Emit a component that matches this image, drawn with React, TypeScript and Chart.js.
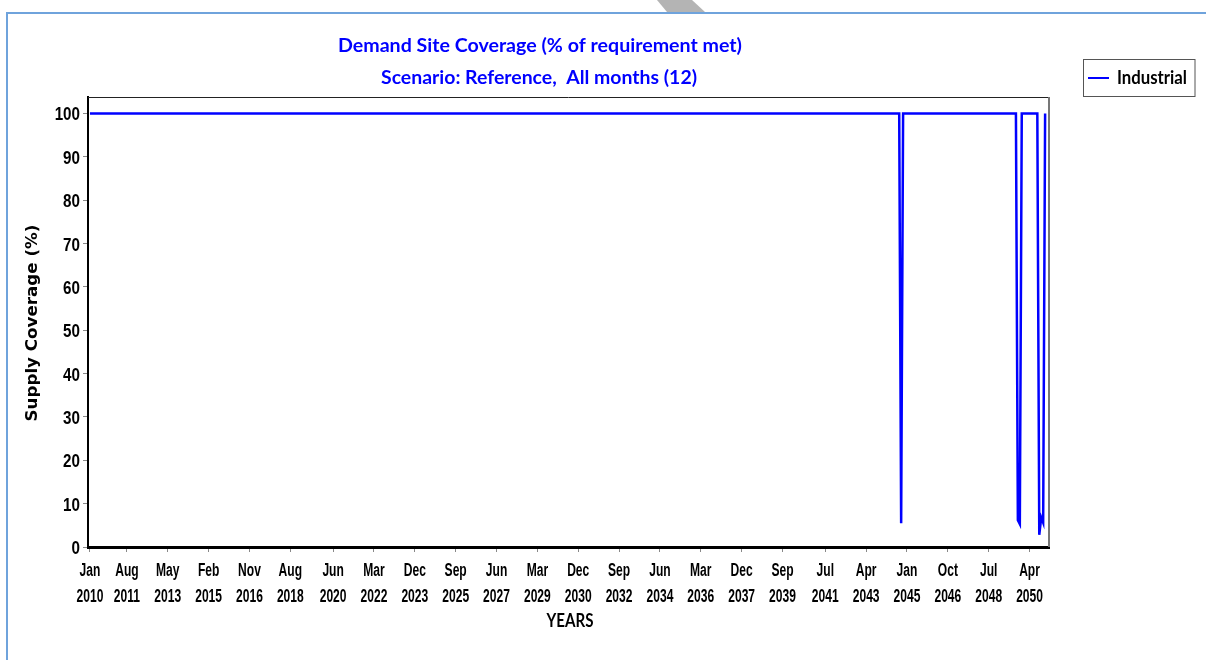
import React, { useEffect, useRef } from "react";
import { Chart, registerables } from "chart.js";

Chart.register(...registerables);

const MONTHS = ["Jan", "Feb", "Mar", "Apr", "May", "Jun", "Jul", "Aug", "Sep", "Oct", "Nov", "Dec"];
const START_YEAR = 2010;

// Series: monthly coverage; between listed months the level stays at 100%
const POINT_MONTHS = [
  "Jan 2010", "Sep 2044", "Oct 2044", "Nov 2044",
  "Sep 2049", "Oct 2049", "Nov 2049", "Dec 2049",
  "Aug 2050", "Sep 2050", "Oct 2050", "Nov 2050", "Dec 2050",
];
const COVERAGE = [100, 100, 5.5, 100, 100, 6.2, 5.3, 100, 100, 2.8, 6.8, 5.6, 100];

const TICK_MONTHS = [
  "Jan 2010", "Aug 2011", "May 2013", "Feb 2015", "Nov 2016", "Aug 2018", "Jun 2020",
  "Mar 2022", "Dec 2023", "Sep 2025", "Jun 2027", "Mar 2029", "Dec 2030", "Sep 2032",
  "Jun 2034", "Mar 2036", "Dec 2037", "Sep 2039", "Jul 2041", "Apr 2043", "Jan 2045",
  "Oct 2046", "Jul 2048", "Apr 2050",
];
const Y_TICKS = [0, 10, 20, 30, 40, 50, 60, 70, 80, 90, 100];

const TITLE_1 = "Demand Site Coverage (% of requirement met)";
const TITLE_2 = "Scenario: Reference,  All months (12)";
const Y_TITLE = "Supply Coverage (%)";
const X_TITLE = "YEARS";
const SERIES_NAME = "Industrial";

const HUMANIST = "Lato,'Open Sans',sans-serif";
const ARIAL = "'Liberation Sans',Arial,sans-serif";
const BLUE = "#0000ff";

function monthIndex(label: string): number {
  const [m, y] = label.split(" ");
  return (parseInt(y, 10) - START_YEAR) * 12 + MONTHS.indexOf(m);
}

function fitText(
  ctx: CanvasRenderingContext2D,
  text: string,
  x: number,
  y: number,
  width: number,
  font: string,
  color: string,
  align: CanvasTextAlign,
  rotate = 0
) {
  ctx.save();
  ctx.font = font;
  ctx.fillStyle = color;
  ctx.textAlign = align;
  ctx.textBaseline = "alphabetic";
  const w = ctx.measureText(text).width;
  ctx.translate(x, y);
  if (rotate) ctx.rotate(rotate);
  ctx.scale(width / w, 1);
  ctx.fillText(text, 0, 0);
  ctx.restore();
}

function squeezeText(
  ctx: CanvasRenderingContext2D,
  text: string,
  x: number,
  y: number,
  sx: number,
  font: string,
  align: CanvasTextAlign
) {
  ctx.save();
  ctx.font = font;
  ctx.fillStyle = "#000000";
  ctx.textAlign = align;
  ctx.textBaseline = "alphabetic";
  ctx.translate(x, y);
  ctx.scale(sx, 1);
  ctx.fillText(text, 0, 0);
  ctx.restore();
}

const decorPlugin = {
  id: "decor",
  beforeDraw(chart: any) {
    const ctx: CanvasRenderingContext2D = chart.ctx;
    ctx.save();
    ctx.fillStyle = "#ffffff";
    ctx.fillRect(0, 0, chart.width, chart.height);
    ctx.fillStyle = "#b4b4b4";
    ctx.beginPath();
    ctx.moveTo(657, 0);
    ctx.lineTo(692, 0);
    ctx.lineTo(705, 12);
    ctx.lineTo(667, 12);
    ctx.closePath();
    ctx.fill();
    ctx.strokeStyle = "#6fa3dc";
    ctx.lineWidth = 2;
    ctx.strokeRect(7, 13, chart.width + 20, chart.height + 20);
    ctx.restore();
  },
  afterDraw(chart: any) {
    const ctx: CanvasRenderingContext2D = chart.ctx;
    const a = chart.chartArea;
    ctx.save();
    ctx.strokeStyle = "#222222";
    ctx.lineWidth = 1;
    ctx.beginPath();
    ctx.moveTo(a.left, a.top + 0.5);
    ctx.lineTo(a.right, a.top + 0.5);
    ctx.stroke();
    ctx.strokeStyle = "#777777";
    ctx.lineWidth = 2;
    ctx.beginPath();
    ctx.moveTo(a.right, a.top);
    ctx.lineTo(a.right, a.bottom);
    ctx.stroke();
    ctx.restore();

    // tick labels placed at the library's scale positions
    const xs = chart.scales.x;
    xs.ticks.forEach((t: any) => {
      const i = TICK_MONTHS.findIndex((m) => monthIndex(m) === t.value);
      if (i < 0) return;
      const [mon, yr] = TICK_MONTHS[i].split(" ");
      const px = xs.getPixelForValue(t.value);
      squeezeText(ctx, mon, px, 576, 0.67, `bold 18px ${ARIAL}`, "center");
      squeezeText(ctx, yr, px, 601.7, 0.67, `bold 18px ${ARIAL}`, "center");
    });
    const ys = chart.scales.y;
    ys.ticks.forEach((t: any) => {
      const py = ys.getPixelForValue(t.value);
      squeezeText(ctx, String(t.value), 80, py + 7, 0.8, `bold 19px ${ARIAL}`, "right");
    });

    fitText(ctx, TITLE_1, 540, 51.5, 404, `bold 19px ${HUMANIST}`, BLUE, "center");
    fitText(ctx, TITLE_2, 539, 84, 316, `bold 19px ${HUMANIST}`, BLUE, "center");
    fitText(ctx, Y_TITLE, 37, 323, 197, "bold 16px 'DejaVu Sans',sans-serif", "#000000", "center", -Math.PI / 2);
    fitText(ctx, X_TITLE, 570, 626.5, 47, `bold 18px ${HUMANIST}`, "#000000", "center");

    ctx.save();
    ctx.fillStyle = "#ffffff";
    ctx.fillRect(1083, 59.5, 112, 37);
    ctx.strokeStyle = "#555555";
    ctx.lineWidth = 1;
    ctx.strokeRect(1083.5, 59.5, 111.5, 37);
    ctx.strokeStyle = BLUE;
    ctx.lineWidth = 2;
    ctx.beginPath();
    ctx.moveTo(1088, 78);
    ctx.lineTo(1109, 78);
    ctx.stroke();
    ctx.restore();
    fitText(ctx, SERIES_NAME, 1117, 84.3, 70, `bold 19px ${HUMANIST}`, "#000000", "left");
  },
};

export default function App() {
  const ref = useRef<HTMLCanvasElement | null>(null);

  useEffect(() => {
    if (!ref.current) return;
    const chart = new Chart(ref.current, {
      type: "line",
      data: {
        datasets: [
          {
            label: SERIES_NAME,
            data: POINT_MONTHS.map((m, i) => ({ x: monthIndex(m), y: COVERAGE[i] })),
            borderColor: BLUE,
            backgroundColor: BLUE,
            borderWidth: 2.5,
            pointRadius: 0,
            tension: 0,
            fill: false,
          },
        ],
      },
      options: {
        animation: false,
        responsive: false,
        maintainAspectRatio: false,
        layout: { padding: { left: 0, top: 97, right: 157, bottom: 0 } },
        plugins: {
          legend: { display: false },
          title: { display: false },
          tooltip: { enabled: false },
        },
        scales: {
          x: {
            type: "linear",
            min: -1,
            max: 493,
            afterFit: (scale: any) => {
              scale.height = 113;
            },
            afterBuildTicks: (scale: any) => {
              scale.ticks = TICK_MONTHS.map((m) => ({ value: monthIndex(m) }));
            },
            grid: { drawOnChartArea: false, drawTicks: true, tickLength: 5, color: "#888888" },
            border: { display: true, color: "#000000", width: 3 },
            ticks: { display: false, autoSkip: false, maxRotation: 0, minRotation: 0 },
          },
          y: {
            type: "linear",
            min: 0,
            max: 103.8,
            afterFit: (scale: any) => {
              scale.width = 88;
            },
            afterBuildTicks: (scale: any) => {
              scale.ticks = Y_TICKS.map((v) => ({ value: v }));
            },
            grid: { drawOnChartArea: false, drawTicks: true, tickLength: 5, color: "#888888" },
            border: { display: true, color: "#000000", width: 2 },
            ticks: { display: false },
          },
        },
      },
      plugins: [decorPlugin],
    });
    return () => chart.destroy();
  }, []);

  return (
    <div style={{ position: "fixed", left: 0, top: 0, width: 1206, height: 660, background: "#fff" }}>
      <canvas ref={ref} width={1206} height={660} style={{ width: 1206, height: 660, display: "block" }} />
    </div>
  );
}
